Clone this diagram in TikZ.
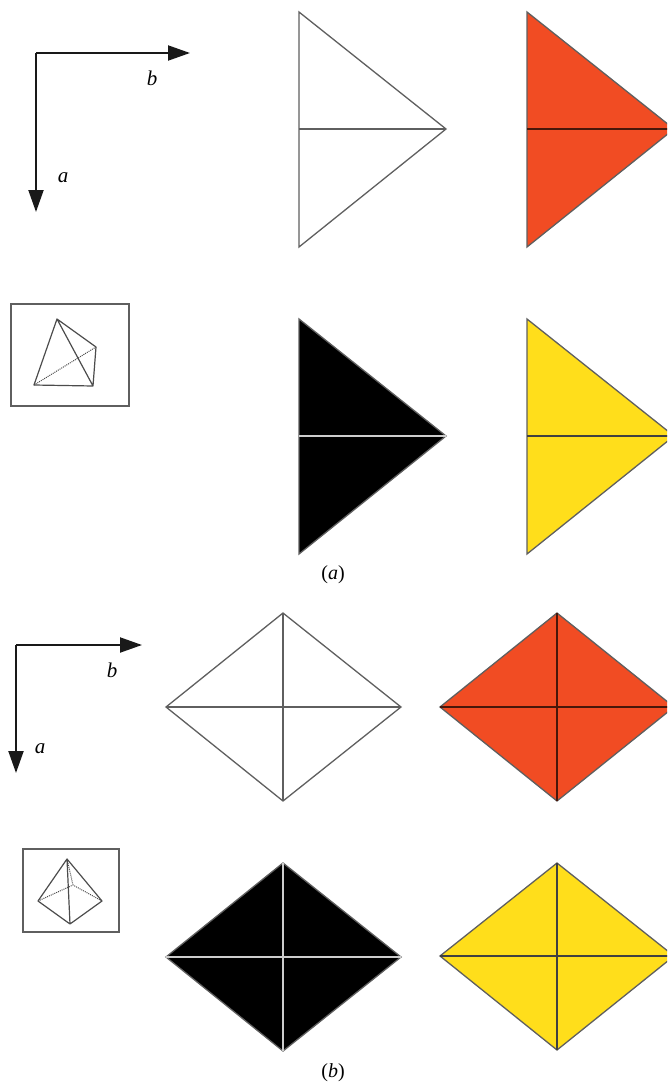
\documentclass[tikz,border=0pt]{standalone}
\usepackage{fontspec}
\setmainfont{Liberation Serif}
\usetikzlibrary{arrows.meta}
\definecolor{myorange}{RGB}{241,76,35}
\definecolor{myyellow}{RGB}{255,222,27}
\definecolor{myline}{RGB}{95,95,95}
\tikzset{
  axis/.style={black!90,line width=2pt,-{Triangle[length=22pt,width=15pt]}},
  shapeline/.style={myline,line width=1.3pt,line join=miter},
  inset/.style={myline,line width=1.4pt},
  edge3d/.style={black!70,line width=1.2pt},
  hidden3d/.style={black!70,line width=1pt,densely dotted},
  lab/.style={inner sep=0pt,font=\fontsize{21}{23}\selectfont\itshape},
  captext/.style={inner sep=0pt,font=\fontsize{20}{22}\selectfont},
}
\newcommand{\tri}[5]{% x, ytop, xapex, fill, midline
  \coordinate (t#1#2) at (#1,#2);
  \coordinate (b#1#2) at (#1,#2+235);
  \coordinate (m#1#2) at (#1,#2+117);
  \coordinate (p#1#2) at (#3,#2+117);
  \filldraw[shapeline,fill=#4] (t#1#2) -- (p#1#2) -- (b#1#2) -- cycle;
  \draw[shapeline,draw=#5] (m#1#2) -- (p#1#2);
}
\newcommand{\dia}[6]{% xl, xc, xr, yt, ym, yb + style given by \diafill \dialine
  \coordinate (l#1#5) at (#1,#5);
  \coordinate (r#1#5) at (#3,#5);
  \coordinate (u#1#5) at (#2,#4);
  \coordinate (d#1#5) at (#2,#6);
  \filldraw[shapeline,fill=\diafill] (l#1#5) -- (u#1#5) -- (r#1#5) -- (d#1#5) -- cycle;
  \draw[shapeline,draw=\dialine] (l#1#5) -- (r#1#5) (u#1#5) -- (d#1#5);
}
\begin{document}
\begin{tikzpicture}[x=1pt,y=-1pt]
\clip (0,0) rectangle (667,1084);
% (a) axes
\coordinate (o1) at (36,53);
\coordinate (a1) at (36,212);
\coordinate (b1) at (190,53);
\draw[axis] (o1) -- (a1);
\draw[axis] (o1) -- (b1);
\node[lab] (la1) at (63,178) {a};
\node[lab] (lb1) at (152,78) {b};
% (a) inset
\draw[inset] (11,304) rectangle (129,406);
\coordinate (A) at (57,319);
\coordinate (B) at (96,347);
\coordinate (C) at (93,386);
\coordinate (D) at (34,385);
\draw[edge3d,line join=round] (A) -- (B) -- (C) -- (D) -- cycle (A) -- (C);
\draw[hidden3d] (D) -- (B);
% (a) triangles
\tri{299}{12}{446}{white}{myline}
\tri{527}{12}{674}{myorange}{black!70!myorange}
\tri{299}{319}{446}{black}{white!80!black}
\tri{527}{319}{674}{myyellow}{black!75}
\node[captext] (capa) at (333,575) {(\textit{a})};
% (b) axes
\coordinate (o2) at (16,645);
\coordinate (a2) at (16,773);
\coordinate (b2) at (142,645);
\draw[axis] (o2) -- (a2);
\draw[axis] (o2) -- (b2);
\node[lab] (la2) at (40,749) {a};
\node[lab] (lb2) at (112,670) {b};
% (b) inset
\draw[inset] (23,849) rectangle (119,932);
\coordinate (E) at (67,859);
\coordinate (F) at (38,901);
\coordinate (G) at (102,901);
\coordinate (H) at (70,924);
\coordinate (I) at (73,885);
\draw[edge3d,line join=round] (E) -- (F) -- (H) -- (G) -- cycle (E) -- (H);
\draw[hidden3d] (F) -- (I) -- (G) (E) -- (I);
% (b) diamonds
\def\diafill{white}\def\dialine{myline}
\dia{166}{283}{401}{613}{707}{801}
\def\diafill{myorange}\def\dialine{black!70!myorange}
\dia{440}{557}{674}{613}{707}{801}
\def\diafill{black}\def\dialine{white!80!black}
\dia{166}{283}{401}{863}{957}{1051}
\def\diafill{myyellow}\def\dialine{black!75}
\dia{440}{557}{674}{863}{956}{1050}
\node[captext] (capb) at (333,1073) {(\textit{b})};
\end{tikzpicture}
\end{document}
